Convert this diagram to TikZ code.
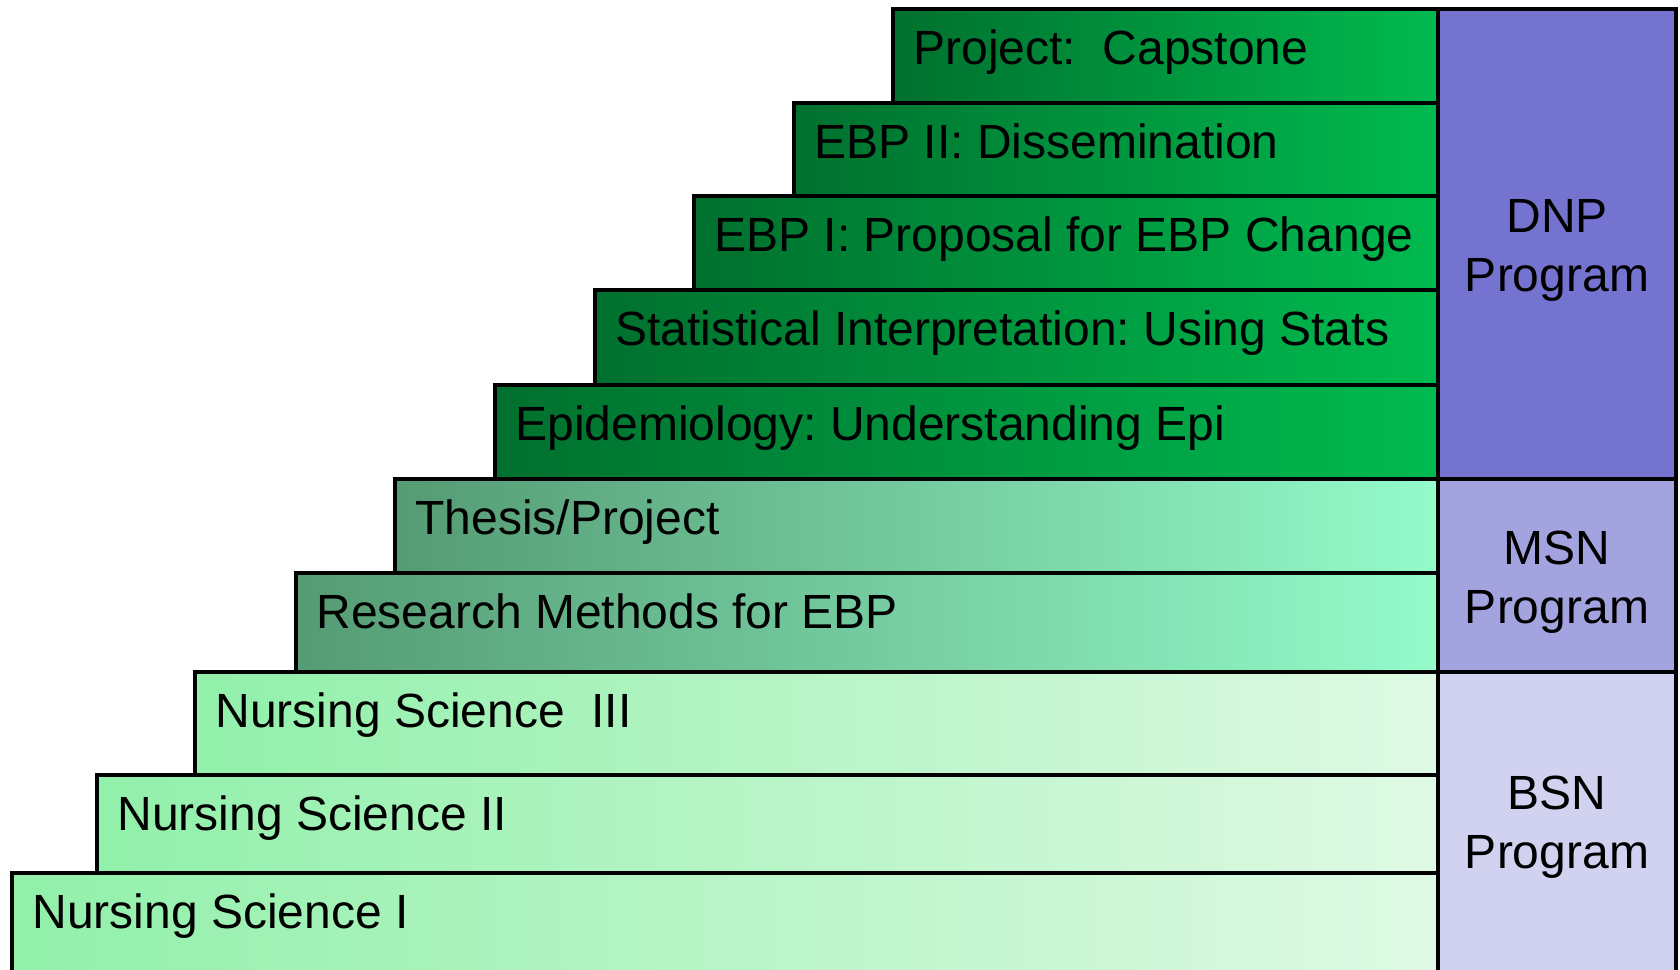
\documentclass[tikz,border=0pt]{standalone}
\usepackage{fontspec}
\setmainfont{Liberation Sans}
\frenchspacing
\definecolor{dnpL}{HTML}{00702E}
\definecolor{dnpR}{HTML}{00BA4F}
\definecolor{msnL}{HTML}{559B74}
\definecolor{msnR}{HTML}{94FBCB}
\definecolor{bsnL}{HTML}{91F0AA}
\definecolor{bsnR}{HTML}{DFF9E4}
\definecolor{dnpC}{HTML}{7473CF}
\definecolor{msnC}{HTML}{A3A3DF}
\definecolor{bsnC}{HTML}{D1D1F0}
\tikzset{
  rowbox/.style={draw=black, line width=1.6pt, inner sep=0pt, outer sep=0pt},
  dnprow/.style={rowbox, left color=dnpL, right color=dnpR},
  msnrow/.style={rowbox, left color=msnL, right color=msnR},
  bsnrow/.style={rowbox, left color=bsnL, right color=bsnR},
  rowtext/.style={anchor=base west, inner sep=0pt, font=\fontsize{24}{28}\selectfont},
  progbox/.style={draw=black, line width=1.6pt},
  progtext/.style={align=center, inner sep=0pt, font=\fontsize{24}{29.5}\selectfont},
}
\newcommand{\steprow}[6]{%
  % #1 name, #2 style, #3 left, #4 top, #5 bottom, #6 text
  \path[#2] (#3,#4) rectangle (1438,#5);
  \node[rowtext] (#1) at ({#3+20},{#4+55}) {#6};
}
\begin{document}
\begin{tikzpicture}[x=0.5pt,y=-0.5pt]
\useasboundingbox (0,0) rectangle (1680,969);
\fill[white] (0,0) rectangle (1680,969);
% rows
\steprow{r10}{bsnrow}{12}{873}{985}{Nursing Science I}
\steprow{r9}{bsnrow}{97}{775}{873}{Nursing Science II}
\steprow{r8}{bsnrow}{195}{672}{775}{Nursing Science\ \ III}
\steprow{r7}{msnrow}{296}{573}{672}{Research Methods for EBP}
\steprow{r6}{msnrow}{395}{479}{573}{Thesis/Project}
\steprow{r5}{dnprow}{495}{385}{479}{Epidemiology: Understanding Epi}
\steprow{r4}{dnprow}{595}{290}{385}{Statistical Interpretation: Using Stats}
\steprow{r3}{dnprow}{694}{196}{290}{EBP I: Proposal for EBP Change}
\steprow{r2}{dnprow}{794}{103}{196}{EBP II: Dissemination}
\steprow{r1}{dnprow}{893}{9}{103}{Project:\ \ Capstone}
% program column
\path[progbox, fill=dnpC] (1438,9) rectangle (1676,479);
\path[progbox, fill=msnC] (1438,479) rectangle (1676,672);
\path[progbox, fill=bsnC] (1438,672) rectangle (1676,985);
\node[progtext] (dnp) at (1557,250) {DNP\\Program};
\node[progtext] (msn) at (1557,582) {MSN\\Program};
\node[progtext] (bsn) at (1557,827) {BSN\\Program};
\end{tikzpicture}
\end{document}
